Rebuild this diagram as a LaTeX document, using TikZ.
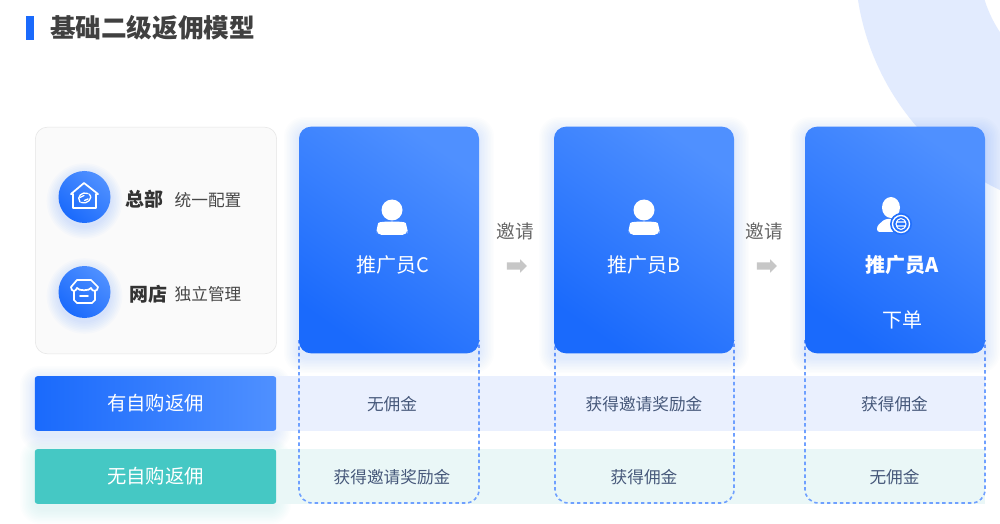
\documentclass[tikz,border=0pt]{standalone}
\usepackage{fontspec}
\setmainfont{Noto Sans CJK SC}
\usetikzlibrary{shapes.arrows}
\definecolor{bluea}{HTML}{1A6AFC}
\definecolor{blueb}{HTML}{4F90FF}
\definecolor{bandblue}{HTML}{EAF0FE}
\definecolor{bandteal}{HTML}{EAF7F7}
\definecolor{ringblue}{HTML}{E2EBFE}
\definecolor{tealbox}{HTML}{45C8C4}
\definecolor{rowtext}{HTML}{46587A}
\definecolor{dashblue}{HTML}{6FA0FF}
\tikzset{
card/.style = {rounded corners=9pt, minimum width=135pt, minimum height=170pt, top color=blueb, bottom color=bluea, shading angle=-35},
tag/.style = {rounded corners=2pt, minimum width=181pt, minimum height=41pt, text=white, font=\fontsize{14.5}{16}\selectfont},
disc/.style = {circle, minimum size=39pt, top color=blueb, bottom color=bluea, shading angle=-40},
cardtext/.style = {text=white, font=\fontsize{15}{18}\selectfont},
rowlabel/.style = {text=rowtext, font=\fontsize{12.5}{15}\selectfont},
invite/.style = {text=black!60, font=\fontsize{14}{17}\selectfont},
next/.style = {single arrow, fill=black!22, minimum height=15pt, inner sep=2.6pt, single arrow head extend=2.2pt},
dashbox/.style = {draw=dashblue, line width=1.2pt, dash pattern=on 2.6pt off 2.2pt, rounded corners=10pt},
icon/.style = {white, line width=1.3pt, line join=round, line cap=round},
}
% soft glow under a box: x1 y1 x2 y2 colour
\newcommand{\softglow}[5]{
	\foreach \g in {1,...,10}
		\fill [#5, opacity=.012, rounded corners=6pt+.9pt*\g] (#1-1.5*\g, #2-1.5*\g+5) rectangle (#3+1.5*\g, #4+1.5*\g+5);
}
\begin{document}
\begin{tikzpicture}[x=.75pt, y=-.75pt]
		\useasboundingbox (0, 0) rectangle (1000, 524);
		\clip (0, 0) rectangle (1000, 524);
		\fill [white] (0, 0) rectangle (1000, 524);
		\fill [ringblue, even odd rule] (1108.6, -39.2) circle (253.6) (1108.6, -39.2) circle (130);
		% title
		\fill [bluea] (26, 16) rectangle (34, 40);
		\node (0) at (152.5, 28) {\fontsize{19.2}{22}\selectfont\bfseries\color{black!75}基础二级返佣模型};
		% rows
		\softglow{35}{376}{276}{431}{bluea}
		\softglow{35}{449}{276}{504}{tealbox}
		\fill [bandblue] (276, 376) rectangle (985, 431);
		\fill [bandteal] (276, 449) rectangle (985, 504);
		\node [tag, left color=bluea, right color=blueb] (1) at (155.5, 403.5) {有自购返佣};
		\node [tag, fill=tealbox] (2) at (155.5, 476.5) {无自购返佣};
		% dashed columns
		\foreach \l/\r in {299/479, 555/734, 805/985}
			\draw [dashbox] (\l, 340) -- (\l, 503) -- (\r, 503) -- (\r, 340);
		% left panel
		\node [draw=black!10, fill=black!2, rounded corners=9pt, minimum width=181pt, minimum height=170pt] (3) at (156, 240.5) {};
		\foreach \y in {197, 292}
			\foreach \g in {1,...,8}
				\fill [bluea, opacity=.02] (84.5, \y+4) circle (25+1.6*\g);
		\node [disc] (4) at (84.5, 197) {};
		\node [disc] (5) at (84.5, 292) {};
		\node (6) at (144.5, 199) {\fontsize{14.2}{16}\selectfont\bfseries\color{black!80}总部};
		\node (7) at (208, 200) {\fontsize{12.5}{15}\selectfont\color{black!72}统一配置};
		\node (8) at (148, 294) {\fontsize{14.2}{16}\selectfont\bfseries\color{black!80}网店};
		\node (9) at (208, 294) {\fontsize{12.5}{15}\selectfont\color{black!72}独立管理};
		% house icon
		\draw [icon] (71, 194) -- (84, 183) -- (98, 194) -- (96, 194) -- (96, 208) -- (73, 208) -- (73, 194) -- cycle;
		\draw [icon, line width=1pt] (88, 193.5) .. controls (82, 191) and (76, 197) .. (80, 202);
		\draw [icon, line width=1pt] (81, 202.5) .. controls (87, 205) and (94, 198) .. (89, 194);
		\draw [icon, line width=1pt] (80, 197.5) -- (84, 195.5) (84.5, 200.5) -- (88, 199);
		% shop icon
		\draw [icon] (77, 280) -- (91, 280) -- (98, 287) .. controls (98, 292) and (92, 292) .. (91, 288) .. controls (90, 291) and (78, 291) .. (77, 288) .. controls (76, 292) and (71, 292) .. (71, 287) -- cycle;
		\draw [icon] (74, 291) -- (74, 300) -- (77, 303) -- (92, 303) -- (95, 300) -- (95, 291);
		\draw [icon] (80, 296) -- (88, 296);
		% cards
		\softglow{299}{127}{479}{353}{bluea}
		\softglow{554}{127}{734}{353}{bluea}
		\softglow{805}{127}{985}{353}{bluea}
		\node [card] (10) at (389, 240) {};
		\node [card] (11) at (644, 240) {};
		\node [card] (12) at (895, 240) {};
		% people
		\foreach \x in {392, 644} {
			\fill [white] (\x, 210) circle (10.5);
			\fill [white, rounded corners=4pt] (\x-15.5, 235) -- (\x-15.5, 228) .. controls (\x-13, 221) and (\x+13, 221) .. (\x+15.5, 228) -- (\x+15.5, 235) -- cycle;
		}
		\fill [white] (891, 207.5) ellipse (9 and 10.5);
		\fill [white, rounded corners=2pt] (877, 232) -- (877, 226) -- (885, 219) -- (897, 219) -- (906, 232) -- cycle;
		\fill [bluea!85!blueb] (901, 224) circle (11);
		\draw [white, line width=1pt] (901, 224) circle (8.5);
		\draw [white, line width=.8pt] (901, 224) ellipse (5 and 5.5) (896, 222) -- (906, 222) (896, 226) -- (906, 226);
		\node [cardtext] (13) at (393, 265) {推广员C};
		\node [cardtext] (14) at (644, 265) {推广员B};
		\node [cardtext, font=\fontsize{15}{18}\selectfont\bfseries] (15) at (902, 265) {推广员A};
		\node [cardtext] (16) at (902, 320) {下单};
		% between cards
		\node [invite] (17) at (515, 231) {邀请};
		\node [invite] (18) at (764, 231) {邀请};
		\node [next] (19) at (515, 266) {};
		\node [next] (20) at (765, 266) {};
		% row texts
		\node [rowlabel] (21) at (392, 404) {无佣金};
		\node [rowlabel] (22) at (644, 404) {获得邀请奖励金};
		\node [rowlabel] (23) at (894.5, 404) {获得佣金};
		\node [rowlabel] (24) at (392, 477) {获得邀请奖励金};
		\node [rowlabel] (25) at (644, 477) {获得佣金};
		\node [rowlabel] (26) at (894.5, 477) {无佣金};
	\end{tikzpicture}
\end{document}
